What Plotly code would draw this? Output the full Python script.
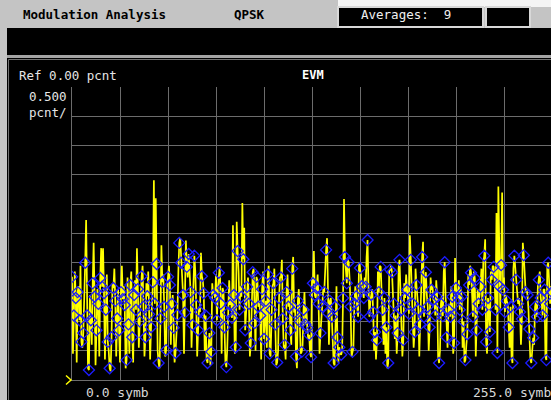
import numpy as np
import plotly.graph_objects as go

# EVM (%) at each of the 256 symbol instants
evm_symbol = [
    1.76, 1.10, 1.40, 1.50, 1.02, 0.65, 0.80, 2.00, 1.10, 0.17, 1.02, 1.65, 1.42, 0.85, 1.30, 1.74,
    1.59, 1.48, 1.20, 0.65, 0.20, 0.73, 1.57, 1.35, 1.05, 0.85, 1.50, 1.38, 1.28, 0.34, 0.95, 1.62,
    0.73, 1.45, 1.20, 1.55, 1.00, 1.77, 1.25, 0.73, 1.43, 1.12, 0.90, 1.67, 1.30, 1.98, 0.29, 1.05,
    1.67, 1.25, 0.51, 1.76, 1.62, 1.30, 0.89, 0.46, 1.11, 2.34, 2.00, 1.45, 1.15, 1.93, 2.15, 1.50,
    0.94, 2.12, 1.28, 0.85, 1.16, 1.77, 1.48, 1.10, 0.29, 0.80, 0.48, 1.45, 1.40, 1.02, 1.83, 1.30,
    1.57, 0.90, 0.22, 1.15, 1.28, 1.06, 1.45, 0.56, 2.20, 1.20, 1.42, 2.06, 0.85, 1.59, 1.30, 0.63,
    1.84, 0.97, 1.76, 1.25, 1.10, 1.55, 0.70, 1.35, 1.80, 0.45, 1.20, 1.65, 0.95, 0.30, 1.40, 1.75,
    1.05, 0.60, 1.50, 1.25, 0.85, 1.90, 1.15, 0.40, 1.35, 1.00, 0.48, 1.20, 0.95, 0.89, 0.77, 0.39,
    1.65, 1.45, 1.57, 1.30, 0.80, 1.25, 1.50, 2.22, 1.14, 1.35, 1.08, 0.29, 1.25, 0.73, 0.56, 0.43,
    1.40, 2.10, 1.65, 2.01, 1.25, 0.48, 1.30, 1.43, 1.08, 1.91, 1.60, 1.40, 1.59, 2.39, 1.08, 1.45,
    1.16, 0.82, 0.68, 1.50, 1.93, 1.20, 1.40, 0.90, 0.29, 1.88, 1.84, 1.30, 1.10, 0.80, 2.05, 1.20,
    0.68, 1.40, 1.54, 1.13, 2.05, 1.30, 0.82, 1.62, 1.20, 0.95, 2.10, 1.08, 1.84, 1.25, 0.90, 1.54,
    1.37, 1.10, 1.42, 0.29, 1.30, 1.09, 2.01, 0.73, 1.20, 1.08, 1.42, 0.63, 1.57, 1.40, 1.20, 1.42,
    1.00, 0.34, 0.78, 1.62, 1.83, 1.08, 1.74, 0.85, 1.30, 1.59, 1.20, 2.12, 0.65, 1.40, 0.82, 1.71,
    1.93, 1.20, 0.46, 1.60, 1.96, 1.54, 1.16, 1.35, 0.90, 1.25, 0.29, 2.12, 1.71, 1.30, 1.16, 1.04,
    2.13, 1.50, 1.45, 0.87, 0.29, 0.72, 1.25, 1.08, 1.71, 1.40, 1.10, 1.54, 0.34, 2.00, 1.30, 1.50,
]

# EVM (%) at the half-symbol points between consecutive symbols
evm_between = [
    0.45, 1.85, 0.30, 1.60, 1.95, 0.55, 1.70, 2.73, 0.20, 1.45, 0.60, 2.34, 0.25, 1.55, 0.40, 2.25,
    2.25, 0.35, 1.80, 0.50, 0.15, 1.65, 1.90, 0.40, 1.55, 0.30, 1.95, 1.60, 0.20, 1.75, 0.45, 1.85,
    0.30, 1.70, 2.25, 0.55, 1.50, 1.95, 0.40, 1.65, 1.85, 0.35, 1.45, 3.41, 3.10, 0.50, 0.20, 2.30,
    1.80, 0.40, 1.55, 1.95, 0.60, 1.45, 0.30, 0.70, 1.85, 2.42, 1.60, 0.45, 2.38, 1.75, 1.90, 0.55,
    1.60, 1.85, 0.40, 1.25, 2.17, 1.70, 0.50, 0.35, 0.60, 0.25, 1.65, 1.50, 1.80, 1.55, 1.95, 0.45,
    1.50, 0.30, 0.55, 1.70, 1.40, 2.64, 0.45, 2.70, 1.85, 1.60, 3.02, 2.60, 1.20, 1.75, 0.40, 1.60,
    1.90, 0.50, 1.70, 1.35, 0.35, 1.85, 1.20, 0.55, 1.95, 0.40, 1.60, 1.90, 0.25, 0.50, 1.75, 2.05,
    0.55, 0.35, 1.80, 1.45, 0.60, 2.10, 1.30, 0.20, 1.55, 0.45, 0.60, 1.50, 1.25, 0.70, 0.45, 1.75,
    2.20, 1.40, 1.80, 0.45, 1.05, 1.55, 1.95, 2.42, 0.60, 1.40, 0.50, 0.25, 1.60, 0.30, 0.45, 0.50,
    3.09, 1.85, 2.05, 1.70, 0.40, 0.55, 1.60, 1.30, 2.00, 1.80, 1.50, 1.75, 2.10, 1.60, 1.35, 1.55,
    0.50, 0.35, 1.85, 1.95, 1.40, 0.60, 0.45, 0.20, 1.85, 1.95, 1.50, 0.70, 0.45, 1.90, 1.45, 0.40,
    1.65, 1.80, 1.40, 2.47, 1.60, 0.55, 1.90, 1.45, 0.40, 1.85, 2.36, 1.70, 1.45, 0.50, 1.75, 1.60,
    1.35, 1.70, 0.40, 0.50, 1.45, 1.85, 1.40, 0.55, 1.30, 1.60, 0.45, 2.08, 1.50, 1.70, 1.55, 0.55,
    0.30, 0.60, 1.80, 1.95, 1.50, 1.85, 0.40, 1.55, 1.45, 1.90, 2.00, 2.40, 0.45, 1.20, 1.85, 1.95,
    1.70, 2.85, 3.30, 1.20, 3.20, 1.75, 1.45, 1.30, 0.55, 0.40, 1.90, 1.95, 1.50, 1.40, 0.60, 2.34,
    1.85, 1.55, 1.20, 0.35, 0.45, 0.60, 1.35, 1.60, 1.85, 1.30, 1.55, 0.40, 1.95, 1.70, 1.60,
]

header_title = "Modulation Analysis"
modulation = "QPSK"
averages_label = "Averages:  9"
trace_name = "EVM"
ref_label = "Ref 0.00 pcnt"
scale_value = "0.500"
scale_unit = "pcnt/"
x_start_label = "0.0 symb"
x_stop_label = "255.0 symb"

W, H = 551, 400
PL, PR, PT, PB = 72, 551, 87, 380  # plot-area edges in pixels
SPAN = 255.0
X_MAX = SPAN * (PR - PL) / 480.0    # full span is 480 px wide, right edge falls off screen


def fx(px):
    return (px - PL) / (PR - PL)


def fy(py):
    return (PB - py) / (PB - PT)


# interleave symbol and half-symbol samples into one continuous trace
sym = np.array(evm_symbol)
mid = np.array(evm_between)
n = len(sym)
x_line = np.empty(2 * n - 1)
y_line = np.empty(2 * n - 1)
x_line[0::2] = np.arange(n)
x_line[1::2] = np.arange(n - 1) + 0.5
y_line[0::2] = sym
y_line[1::2] = mid

fig = go.Figure()
fig.add_trace(go.Scatter(
    x=x_line, y=y_line, mode="lines",
    line=dict(color="#ffff00", width=1.7),
    hoverinfo="skip", showlegend=False,
))
fig.add_trace(go.Scatter(
    x=np.arange(n), y=sym, mode="markers",
    marker=dict(symbol="diamond-open", size=8.5, color="#1c1cff",
                line=dict(color="#1c1cff", width=1.3)),
    hoverinfo="skip", showlegend=False,
))

GRID = "#6c6c6c"


def rect(x0, y0, x1, y1, fill, line=None, lw=0):
    return dict(type="rect", xref="paper", yref="paper",
                x0=fx(x0), x1=fx(x1), y0=fy(y0), y1=fy(y1),
                fillcolor=fill, line=dict(color=line or fill, width=lw), layer="below")


shapes = [
    rect(0, 0, W, 28, "#c4c4c4"),
    rect(338, 0, W, 7, "#f4f4f4"),
    rect(530, 7, W, 28, "#c4c4c4"),
    rect(338, 7, 483, 27, "#000000", "#d8d8d8", 2),
    rect(486, 7, 530, 27, "#000000", "#d8d8d8", 2),
    rect(0, 28, 7, H, "#c4c4c4"),
    rect(7, 55, W, 58, "#a4a4a4"),
    dict(type="path", xref="paper", yref="paper",
         path=f"M {fx(8.5)},{fy(H)} L {fx(8.5)},{fy(59.5)} L {fx(W)},{fy(59.5)}",
         line=dict(color="#707070", width=1)),
    # reference-position marker at the bottom-left of the grid
    dict(type="path", xref="paper", yref="paper",
         path=f"M {fx(66)},{fy(375.5)} L {fx(71)},{fy(380)} L {fx(66)},{fy(384.5)}",
         line=dict(color="#ffff00", width=1.5)),
]

MONO = "DejaVu Sans Mono"
TXT = "#e6e6e6"


def label(text, px, py, xanchor="left", size=12.5, color=TXT, bold=False):
    return dict(text=f"<b>{text}</b>" if bold else text,
                xref="paper", yref="paper", x=fx(px), y=fy(py),
                xanchor=xanchor, yanchor="middle", showarrow=False,
                font=dict(family=MONO, size=size, color=color))


annotations = [
    label(header_title, 21, 15, size=12.5, color="#000000", bold=True),
    label(modulation, 249, 15, xanchor="center", size=12.5, color="#000000", bold=True),
    label(averages_label, 359, 15, size=12.5, color="#f0f0f0"),
    label(ref_label, 17, 75),
    label(trace_name, 313, 75, xanchor="center", size=12, color="#ffffff", bold=True),
    label(scale_value, 69, 96, xanchor="right"),
    label(scale_unit, 69, 112, xanchor="right"),
    label(x_start_label, 84, 392, size=13, color="#d8d8d8"),
    label(x_stop_label, 553, 392, xanchor="right", size=13, color="#d8d8d8"),
]

fig.update_layout(
    width=W, height=H,
    margin=dict(l=PL, r=W - PR, t=PT, b=H - PB, pad=0),
    paper_bgcolor="#000000", plot_bgcolor="#000000",
    shapes=shapes, annotations=annotations,
    xaxis=dict(range=[0, X_MAX], tick0=0, dtick=SPAN / 10, showticklabels=False,
               ticks="", showgrid=True, gridcolor=GRID, gridwidth=1.2, zeroline=False,
               showline=True, linecolor=GRID, linewidth=1.2, fixedrange=True),
    yaxis=dict(range=[0, 5], tick0=0, dtick=0.5, showticklabels=False,
               ticks="", showgrid=True, gridcolor=GRID, gridwidth=1.2, zeroline=False,
               showline=True, linecolor=GRID, linewidth=1.2, mirror=True, fixedrange=True),
)

fig.write_html("out.html")
